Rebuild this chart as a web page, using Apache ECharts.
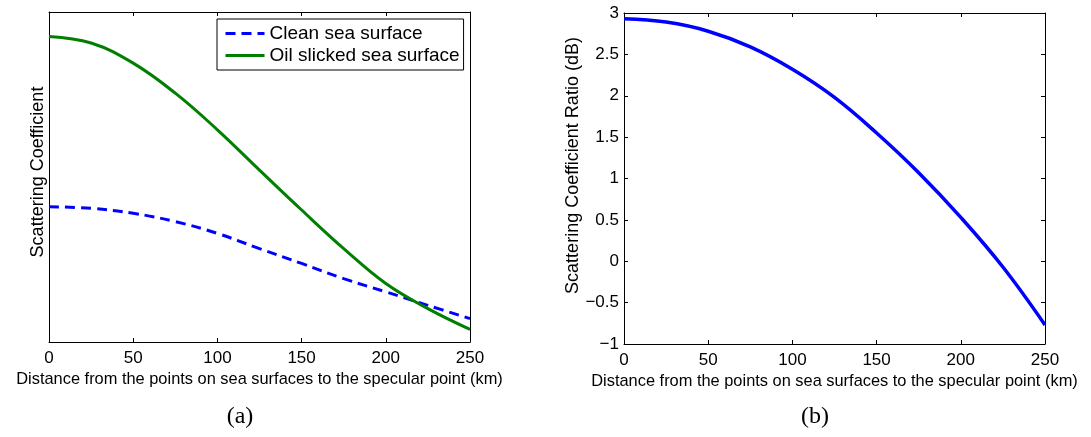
<!DOCTYPE html>
<html>
<head>
<meta charset="utf-8">
<script src="https://cdn.jsdelivr.net/npm/echarts@6/dist/echarts.min.js"></script>
<style>
  html, body { margin: 0; padding: 0; background: #fff; }
  #chart { width: 1091px; height: 437px; }
</style>
</head>
<body>
<div id="chart"></div>
<script>
// ---- data ----
const distanceKm = [0, 25, 50, 75, 100, 125, 150, 175, 200, 225, 250];
const cleanSea   = [0.410, 0.405, 0.390, 0.365, 0.329, 0.283, 0.238, 0.192, 0.152, 0.111, 0.071];
const oilSea     = [0.926, 0.906, 0.845, 0.754, 0.643, 0.521, 0.400, 0.283, 0.177, 0.101, 0.038];
const ratioDb    = [2.93, 2.89, 2.78, 2.59, 2.32, 1.98, 1.55, 1.07, 0.53, -0.07, -0.77];
const xTickLabels = [0, 50, 100, 150, 200, 250];
const yTickLabelsB = [-1, -0.5, 0, 0.5, 1, 1.5, 2, 2.5, 3];
const seriesNames = ['Clean sea surface', 'Oil slicked sea surface'];
const xTitle = 'Distance from the points on sea surfaces to the specular point (km)';
const yTitleA = 'Scattering Coefficient';
const yTitleB = 'Scattering Coefficient Ratio (dB)';
const captions = ['(a)', '(b)'];

const FONT = 'Liberation Sans, Arial, Helvetica, sans-serif';
const pairs = (ys) => distanceKm.map((x, i) => [x, ys[i]]);
const minus = (v) => String(v).replace('-', '\u2212');

const frameLine = { show: true, onZero: false, lineStyle: { color: '#000', width: 1 } };
const tickIn = { show: true, inside: true, length: 4, lineStyle: { color: '#000', width: 1 } };

const chart = echarts.init(document.getElementById('chart'), null, { renderer: 'canvas' });

const xBase = (grid, showLabels, pos, name) => ({
  type: 'value', gridIndex: grid, position: pos,
  min: xTickLabels[0], max: xTickLabels[xTickLabels.length - 1], interval: 50,
  axisLine: frameLine, axisTick: tickIn,
  axisLabel: { show: showLabels, color: '#000', fontSize: 17, fontFamily: FONT, margin: 8 },
  splitLine: { show: false },
  name: name || '', nameLocation: 'middle', nameGap: 29,
  nameTextStyle: { color: '#000', fontSize: 16.4, fontFamily: FONT }
});

const option = {
  backgroundColor: '#fff',
  animation: false,
  grid: [
    { left: 49, right: 1091 - 470, top: 12, bottom: 437 - 342 },
    { left: 624, right: 1091 - 1045, top: 13, bottom: 437 - 344 }
  ],
  xAxis: [
    xBase(0, true, 'bottom', xTitle),
    xBase(0, false, 'top'),
    xBase(1, true, 'bottom', xTitle),
    xBase(1, false, 'top')
  ],
  yAxis: [
    {
      type: 'value', gridIndex: 0, position: 'left', min: 0, max: 1,
      axisLine: frameLine, axisTick: { show: false }, axisLabel: { show: false },
      splitLine: { show: false },
      name: yTitleA, nameLocation: 'middle', nameGap: 2,
      nameTextStyle: { color: '#000', fontSize: 18, fontFamily: FONT, padding: [0, 0, 0, 10] }
    },
    {
      type: 'value', gridIndex: 0, position: 'right', min: 0, max: 1,
      axisLine: frameLine, axisTick: { show: false }, axisLabel: { show: false },
      splitLine: { show: false }
    },
    {
      type: 'value', gridIndex: 1, position: 'left',
      min: yTickLabelsB[0], max: yTickLabelsB[yTickLabelsB.length - 1], interval: 0.5,
      axisLine: frameLine, axisTick: tickIn,
      axisLabel: { color: '#000', fontSize: 17, fontFamily: FONT, margin: 5, formatter: minus },
      splitLine: { show: false },
      name: yTitleB, nameLocation: 'middle', nameGap: 33,
      nameTextStyle: { color: '#000', fontSize: 18, fontFamily: FONT, padding: [0, 0, 0, 26] }
    },
    {
      type: 'value', gridIndex: 1, position: 'right',
      min: yTickLabelsB[0], max: yTickLabelsB[yTickLabelsB.length - 1], interval: 0.5,
      axisLine: frameLine, axisTick: tickIn, axisLabel: { show: false },
      splitLine: { show: false }
    }
  ],
  legend: {
    left: 217, top: 19, orient: 'vertical',
    padding: [5, 4, 5, 7], itemGap: 3, itemWidth: 39, itemHeight: 16,
    backgroundColor: '#fff', borderColor: '#000', borderWidth: 1,
    textStyle: { color: '#000', fontSize: 19, fontFamily: FONT },
    itemStyle: { opacity: 0 },
    lineStyle: { width: 3 },
    data: seriesNames
  },
  series: [
    {
      name: seriesNames[0], type: 'line', xAxisIndex: 0, yAxisIndex: 0,
      data: pairs(cleanSea), smooth: 0.4,
      symbol: 'none', showSymbol: false,
      lineStyle: { color: '#0000ff', width: 3, type: [10, 6] },
      itemStyle: { color: '#0000ff' }
    },
    {
      name: seriesNames[1], type: 'line', xAxisIndex: 0, yAxisIndex: 0,
      data: pairs(oilSea), smooth: 0.4,
      symbol: 'none', showSymbol: false,
      lineStyle: { color: '#007f00', width: 3 },
      itemStyle: { color: '#007f00' }
    },
    {
      name: 'ratio', type: 'line', xAxisIndex: 2, yAxisIndex: 2,
      data: pairs(ratioDb), smooth: 0.4,
      symbol: 'none', showSymbol: false,
      lineStyle: { color: '#0000ff', width: 3.5 },
      itemStyle: { color: '#0000ff' }
    }
  ],
  graphic: [
    { type: 'text', x: 240, y: 417, style: { text: captions[0], font: '24px "Liberation Serif", "DejaVu Serif", serif', fill: '#000', align: 'center', verticalAlign: 'middle' } },
    { type: 'text', x: 815, y: 417, style: { text: captions[1], font: '24px "Liberation Serif", "DejaVu Serif", serif', fill: '#000', align: 'center', verticalAlign: 'middle' } }
  ]
};
chart.setOption(option);
</script>
</body>
</html>
